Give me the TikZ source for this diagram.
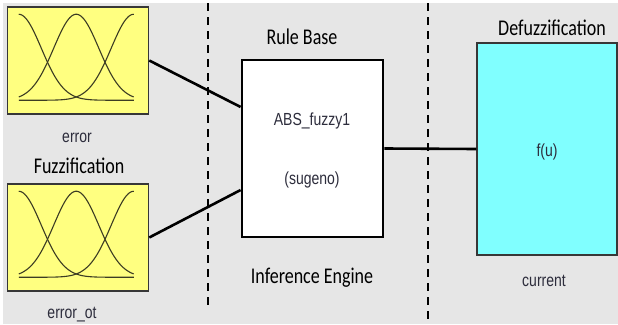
\documentclass[tikz,border=0pt]{standalone}
\usepackage{fontspec}
\newfontfamily\headfont[FakeStretch=0.8]{Carlito}
\newfontfamily\tagfont[FakeStretch=0.8]{Liberation Sans}
\definecolor{panel}{RGB}{230,230,230}
\definecolor{mfyellow}{RGB}{255,255,128}
\definecolor{outcyan}{RGB}{128,255,255}
\definecolor{edge}{RGB}{55,55,55}
\definecolor{mfline}{RGB}{60,60,35}
\definecolor{ink}{RGB}{45,45,60}
\tikzset{
  fuzzbox/.style={draw=edge, line width=1.5pt, fill=mfyellow, minimum width=141, minimum height=107, inner sep=0},
  rulebox/.style={draw=black, line width=2.8pt, fill=white, minimum width=141, minimum height=177, inner sep=0},
  defuzzbox/.style={draw=edge, line width=1.5pt, fill=outcyan, minimum width=140, minimum height=212, inner sep=0},
  wire/.style={line width=2.6pt, black},
  divider/.style={dash pattern=on 8pt off 6pt, line width=1.5pt},
  head/.style={font=\headfont\fontsize{22.5}{26}\selectfont, text=black, inner sep=0},
  tag/.style={font=\tagfont\fontsize{17.5}{20}\selectfont, text=ink, inner sep=0},
  mf/.style={line width=1.1pt, draw=mfline}
}
\begin{document}
\begin{tikzpicture}[x=1pt,y=-1pt]
\useasboundingbox (0,0) rectangle (618,324);
\fill[white] (0,0) rectangle (618,324);
\fill[panel] (3,3) rectangle (618,324);

% stage dividers
\draw[divider] (208,3)--(208,310);
\draw[divider] (428,3)--(428,324);

% inputs
\node[fuzzbox] (in1) at (78,60.5) {};
\node[fuzzbox] (in2) at (78,237.5) {};
\foreach \inp in {in1,in2}
{
    \begin{scope}[shift={(\inp.north west)}]
    \foreach \c in {12,69.5,127}
        \draw[mf] plot[domain=12:127, samples=80] (\x, {94-86*exp(-((\x-\c)*(\x-\c))/1012.5)});
    \end{scope}
}
\node[tag] (errlbl) at (77,138) {error};
\node[head] (fuzz) at (79,166) {Fuzzification};
\node[tag] (errotlbl) at (72,315) {error\_ot};

% rule base
\node[rulebox] (rule) at (312.5,148.5) {};
\node[head] (rulehead) at (302,37) {Rule Base};
\node[tag] (sysname) at (312,121) {ABS\_fuzzy1};
\node[tag] (systype) at (312,180) {(sugeno)};
\node[head] (engine) at (312,278) {Inference Engine};

% output
\node[defuzzbox] (out) at (547,149) {};
\node[head] (defuzz) at (552,28) {Defuzzification};
\node[tag] (fu) at (547,152) {f(u)};
\node[tag] (curlbl) at (544,281) {current};

\draw[wire] (in1.east)--(rule.150);
\draw[wire] (in2.east)--(rule.210);
\draw[wire] (rule.east)--(out.west);

\end{tikzpicture}
\end{document}
